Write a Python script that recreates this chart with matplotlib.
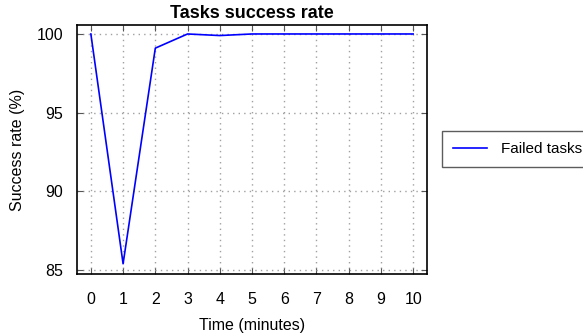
import matplotlib
matplotlib.use("Agg")
import matplotlib.pyplot as plt

plt.rcParams['font.family'] = ['Liberation Sans', 'DejaVu Sans']

# Data
minutes = [0, 1, 2, 3, 4, 5, 6, 7, 8, 9, 10]
success_rate = [100.0, 85.4, 99.1, 100.0, 99.9, 100.0, 100.0, 100.0, 100.0, 100.0, 100.0]
x_ticks = list(range(0, 11))
y_ticks = [85, 90, 95, 100]

fig = plt.figure(figsize=(5.83, 3.36), dpi=100)
ax = fig.add_axes([77 / 583, 62 / 336, 350 / 583, 249 / 336])

ax.plot(minutes, success_rate, color='#0000ff', linewidth=1.2, label='Failed tasks')

ax.set_xlim(-0.43, 10.43)
ax.set_ylim(84.75, 100.57)
ax.set_xticks(x_ticks)
ax.set_yticks(y_ticks)
ax.grid(True, color='#a0a0a0', linestyle=(0, (1, 3)), linewidth=1)
ax.tick_params(direction='in', top=True, right=True, length=4, width=0.8,
               color='#555555', labelsize=11.5)
ax.tick_params(axis='x', pad=13)
ax.tick_params(axis='y', pad=10)
for s in ax.spines.values():
    s.set_linewidth(1.2)

ax.set_title('Tasks success rate', fontsize=13, fontweight='bold', pad=5)
ax.set_xlabel('Time (minutes)', fontsize=11.5, labelpad=8)
ax.set_ylabel('Success rate (%)', fontsize=11.5, labelpad=8)

leg = ax.legend(loc='center left', bbox_to_anchor=(442 / 583, 187 / 336),
                bbox_transform=fig.transFigure, fancybox=False, fontsize=11,
                handlelength=2.2, borderpad=0.75, handletextpad=0.9,
                borderaxespad=0)
leg.get_frame().set_edgecolor('#333333')
leg.get_frame().set_linewidth(1.0)

fig.savefig('out.png', dpi=100)
